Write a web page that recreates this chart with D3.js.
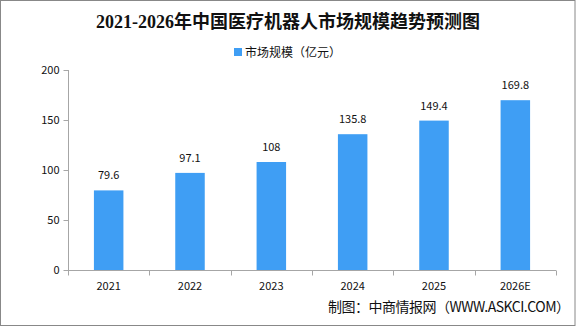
<!DOCTYPE html>
<html>
<head>
<meta charset="utf-8">
<script src="https://cdn.jsdelivr.net/npm/d3@7"></script>
<style>
  html, body { margin: 0; padding: 0; background: #fff; }
  svg { display: block; }
</style>
</head>
<body>
<svg id="chart" width="576" height="327"></svg>
<script>
const categories = ["2021", "2022", "2023", "2024", "2025", "2026E"];
const values = [79.6, 97.1, 108, 135.8, 149.4, 169.8];
const valueLabels = ["79.6", "97.1", "108", "135.8", "149.4", "169.8"];
const yTicks = [0, 50, 100, 150, 200];
const title = "2021-2026年中国医疗机器人市场规模趋势预测图";
const seriesName = "市场规模（亿元）";
const source = "制图：中商情报网（WWW.ASKCI.COM）";

const svg = d3.select("#chart");
const axisColor = "#a6a6a6";
const barColor = "#3f9ef4";
const numFont = "'Noto Sans CJK SC', 'DejaVu Sans', sans-serif";

// frame
svg.append("rect")
  .attr("x", 0.5).attr("y", 0.5)
  .attr("width", 574.5).attr("height", 325)
  .attr("fill", "#fff").attr("stroke", "#888").attr("stroke-width", 1);

// title
svg.append("text")
  .attr("x", 288).attr("y", 28)
  .attr("text-anchor", "middle")
  .attr("font-family", "'Liberation Serif', 'Noto Sans CJK SC', serif")
  .attr("font-weight", "bold")
  .attr("font-size", 18)
  .attr("fill", "#111")
  .text(title);

// legend
svg.append("rect")
  .attr("x", 234).attr("y", 48).attr("width", 8).attr("height", 8)
  .attr("fill", barColor);
svg.append("text")
  .attr("x", 245).attr("y", 57)
  .attr("font-family", "'Noto Sans CJK SC', sans-serif")
  .attr("font-size", 12)
  .attr("fill", "#111")
  .text(seriesName);

const x = d3.scaleBand()
  .domain(categories)
  .range([68, 556])
  .paddingInner(0).paddingOuter(0);

const y = d3.scaleLinear()
  .domain([0, 200])
  .range([270, 70]);

// y axis
const gy = svg.append("g").attr("transform", "translate(68.5,0)");
gy.call(d3.axisLeft(y).tickValues(yTicks).tickSize(5).tickPadding(4).tickFormat(d3.format("d")));
gy.select(".domain").attr("stroke", axisColor).attr("d", `M0,${y(200)}V${y(0)}`);
gy.selectAll(".tick line").attr("stroke", axisColor);
gy.selectAll(".tick text")
  .attr("font-family", numFont).attr("font-size", 11).attr("fill", "#111");

// bars
const barW = 29.5;
svg.append("g").selectAll("rect")
  .data(values)
  .join("rect")
  .attr("x", (d, i) => x(categories[i]) + x.bandwidth() / 2 - barW / 2)
  .attr("y", d => y(d))
  .attr("width", barW)
  .attr("height", d => y(0) - y(d))
  .attr("fill", barColor);

// value labels
svg.append("g").selectAll("text")
  .data(values)
  .join("text")
  .attr("x", (d, i) => x(categories[i]) + x.bandwidth() / 2)
  .attr("y", d => y(d) - 11)
  .attr("text-anchor", "middle")
  .attr("font-family", numFont)
  .attr("font-size", 11)
  .attr("fill", "#111")
  .text((d, i) => valueLabels[i]);

// x axis
const gx = svg.append("g").attr("transform", "translate(0,270.5)");
gx.append("line")
  .attr("x1", x.range()[0]).attr("x2", x.range()[1])
  .attr("y1", 0).attr("y2", 0)
  .attr("stroke", axisColor);
const bounds = categories.map(c => x(c)).concat([x.range()[1]]);
gx.selectAll("line.tk")
  .data(bounds)
  .join("line")
  .attr("class", "tk")
  .attr("x1", d => Math.round(d) + 0.5).attr("x2", d => Math.round(d) + 0.5)
  .attr("y1", 0).attr("y2", 5)
  .attr("stroke", axisColor);
gx.selectAll("text")
  .data(categories)
  .join("text")
  .attr("x", d => x(d) + x.bandwidth() / 2)
  .attr("y", 19)
  .attr("text-anchor", "middle")
  .attr("font-family", numFont)
  .attr("font-size", 11)
  .attr("fill", "#111")
  .text(d => d);

// source
svg.append("text")
  .attr("x", 570).attr("y", 312)
  .attr("text-anchor", "end")
  .attr("font-family", "'Noto Sans CJK SC', sans-serif")
  .attr("font-size", 14)
  .attr("textLength", 242)
  .attr("fill", "#111")
  .text(source);
</script>
</body>
</html>
